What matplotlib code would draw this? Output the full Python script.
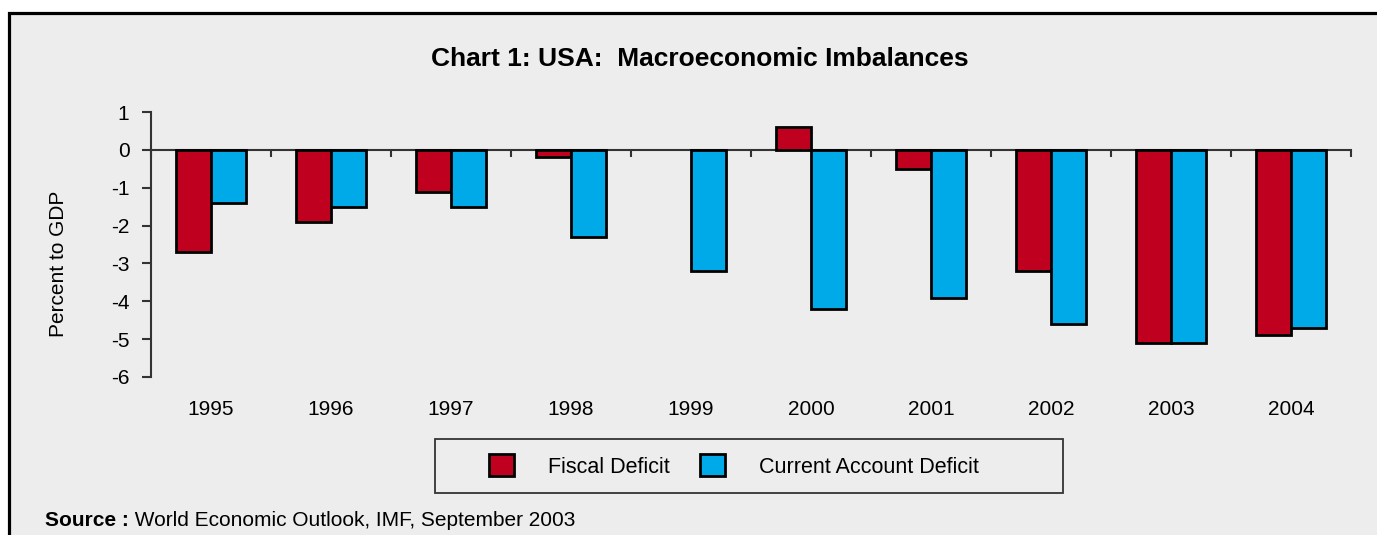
import matplotlib
matplotlib.use("Agg")
import matplotlib.pyplot as plt
from matplotlib.patches import Rectangle
import numpy as np

plt.rcParams["font.family"] = ["Liberation Sans", "DejaVu Sans"]

years = ["1995", "1996", "1997", "1998", "1999", "2000", "2001", "2002", "2003", "2004"]
fiscal_deficit = [-2.7, -1.9, -1.1, -0.2, 0.0, 0.6, -0.5, -3.2, -5.1, -4.9]
current_account_deficit = [-1.4, -1.5, -1.5, -2.3, -3.2, -4.2, -3.9, -4.6, -5.1, -4.7]
y_ticks = [1, 0, -1, -2, -3, -4, -5, -6]

RED = "#C0001F"
BLUE = "#00A9E8"
BG = "#EDEDED"
AXIS = "#333333"
FS = 15

W, H = 1377, 535
fig = plt.figure(figsize=(W / 100, H / 100), dpi=100)
fig.patch.set_facecolor("white")

# outer panel with thick border (cropped on the right and bottom)
panel = Rectangle((9 / W, -0.1), 1.2, 1 - 13 / H + 0.1, transform=fig.transFigure,
                  facecolor=BG, edgecolor="black", linewidth=2.3, zorder=-10)
fig.patches.append(panel)

# legend box
legbox = Rectangle((435 / W, 1 - 493 / H), (1063 - 435) / W, (493 - 439) / H,
                   transform=fig.transFigure, facecolor="none", edgecolor=AXIS,
                   linewidth=1.3, zorder=-5)
fig.patches.append(legbox)

ax = fig.add_axes([151 / W, 1 - 377 / H, 1200 / W, (377 - 112) / H])
ax.set_facecolor("none")

x = np.arange(len(years))
w = 0.29
# no outline for empty (zero) bars
ax.bar(x - w / 2, fiscal_deficit, w, color=RED, edgecolor="black",
       linewidth=[0 if v == 0 else 2 for v in fiscal_deficit],
       label="Fiscal Deficit", zorder=3)
ax.bar(x + w / 2, current_account_deficit, w, color=BLUE, edgecolor="black",
       linewidth=[0 if v == 0 else 2 for v in current_account_deficit],
       label="Current Account Deficit", zorder=3)

ax.set_xlim(-0.5, len(years) - 0.5)
ax.set_ylim(-6, 1)

for s in ("top", "right"):
    ax.spines[s].set_visible(False)
ax.spines["left"].set_color(AXIS)
ax.spines["left"].set_linewidth(1.5)
ax.spines["bottom"].set_position(("data", 0))
ax.spines["bottom"].set_color(AXIS)
ax.spines["bottom"].set_linewidth(1.5)

ax.set_yticks(y_ticks)
ax.set_yticklabels([str(t) for t in y_ticks])
ax.tick_params(axis="y", length=6.5, width=1.5, color=AXIS, labelsize=FS, pad=9)

ax.set_xticks(np.arange(len(years) + 1) - 0.5)
ax.set_xticklabels([])
ax.tick_params(axis="x", length=5, width=1.5, color=AXIS, direction="out")

for i, yr in enumerate(years):
    ax.text(i, -6.85, yr, ha="center", va="center", fontsize=FS)

ax.set_ylabel("Percent to GDP", fontsize=FS)
ax.yaxis.set_label_coords(-0.069, 0.426)

fig.text(700 / W, 1 - 59 / H, "Chart 1: USA:  Macroeconomic Imbalances",
         ha="center", va="center", fontsize=19, fontweight="bold")

leg = fig.legend(loc="center", bbox_to_anchor=(734 / W, 1 - 466 / H),
                 ncol=2, fontsize=15.5, frameon=False,
                 handlelength=1.15, handleheight=1.16, handletextpad=1.6,
                 columnspacing=1.4)
for p in leg.get_patches():
    p.set_linewidth(2)

src = fig.text(45 / W, 1 - 521 / H, "Source :", ha="left", va="center",
               fontsize=FS, fontweight="bold")
ax.annotate(" World Economic Outlook, IMF, September 2003", xy=(1, 0),
            xycoords=src, va="bottom", ha="left", fontsize=FS,
            annotation_clip=False)

fig.savefig("out.png", dpi=100)
